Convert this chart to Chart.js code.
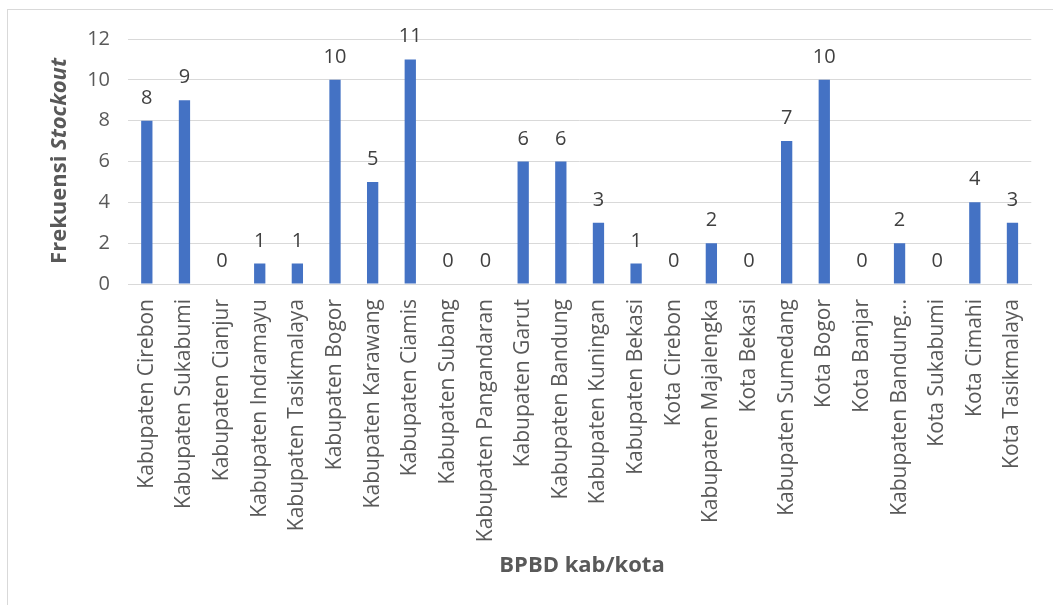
<!DOCTYPE html>
<html>
<head>
<meta charset="utf-8">
<script src="https://cdn.jsdelivr.net/npm/chart.js@4/dist/chart.umd.min.js"></script>
<style>
  html, body { margin: 0; padding: 0; background: #fff; }
  canvas { display: block; }
</style>
</head>
<body>
<canvas id="c" width="1053" height="605"></canvas>
<script>
// Kabupaten / kota in West Java and their stockout frequency
const categories = [
  "Kabupaten Cirebon", "Kabupaten Sukabumi", "Kabupaten Cianjur", "Kabupaten Indramayu",
  "Kabupaten Tasikmalaya", "Kabupaten Bogor", "Kabupaten Karawang", "Kabupaten Ciamis",
  "Kabupaten Subang", "Kabupaten Pangandaran", "Kabupaten Garut", "Kabupaten Bandung",
  "Kabupaten Kuningan", "Kabupaten Bekasi", "Kota Cirebon", "Kabupaten Majalengka",
  "Kota Bekasi", "Kabupaten Sumedang", "Kota Bogor", "Kota Banjar",
  "Kabupaten Bandung…", "Kota Sukabumi", "Kota Cimahi", "Kota Tasikmalaya"
];
const stockout = [8, 9, 0, 1, 1, 10, 5, 11, 0, 0, 6, 6, 3, 1, 0, 2, 0, 7, 10, 0, 2, 0, 4, 3];
const yTicks = [0, 2, 4, 6, 8, 10, 12];
const yTitleMain = "Frekuensi ";
const yTitleItalic = "Stockout";
const xTitle = "BPBD kab/kota";

const FONT = "'Open Sans', 'Noto Sans', sans-serif";
const TEXT = "#595959";

// Value labels above each bar, titles and chart frame
const decorations = {
  id: "decorations",
  afterDatasetsDraw(chart) {
    const ctx = chart.ctx;
    const meta = chart.getDatasetMeta(0);
    ctx.save();
    ctx.fillStyle = "#404040";
    ctx.font = "20px " + FONT;
    ctx.textAlign = "center";
    ctx.textBaseline = "alphabetic";
    meta.data.forEach((bar, i) => {
      ctx.fillText(String(stockout[i]), bar.x, bar.y - 17);
    });
    ctx.restore();
  },
  afterDraw(chart) {
    const ctx = chart.ctx;
    ctx.save();
    // frame
    ctx.strokeStyle = "#d9d9d9";
    ctx.lineWidth = 1;
    ctx.strokeRect(7.5, 9.5, 1200, 800);

    // y axis title with italic part
    ctx.fillStyle = TEXT;
    ctx.textBaseline = "middle";
    const fMain = "bold 22px " + FONT;
    const fIt = "italic bold 22px " + FONT;
    ctx.font = fMain;
    const w1 = ctx.measureText(yTitleMain).width;
    ctx.font = fIt;
    const w2 = ctx.measureText(yTitleItalic).width;
    ctx.translate(60, 161);
    ctx.rotate(-Math.PI / 2);
    ctx.textAlign = "left";
    const start = -(w1 + w2) / 2;
    ctx.font = fMain;
    ctx.fillText(yTitleMain, start, 0);
    ctx.font = fIt;
    ctx.fillText(yTitleItalic, start + w1, 0);
    ctx.setTransform(1, 0, 0, 1, 0, 0);

    // x axis title
    ctx.font = "bold 22px " + FONT;
    ctx.textAlign = "center";
    ctx.fillText(xTitle, 582, 566);
    ctx.restore();
  }
};

new Chart(document.getElementById("c"), {
  type: "bar",
  data: {
    labels: categories,
    datasets: [{
      data: stockout,
      backgroundColor: "#4472C4",
      borderWidth: 0,
      categoryPercentage: 1,
      barPercentage: 0.3
    }]
  },
  options: {
    responsive: false,
    animation: false,
    devicePixelRatio: 1,
    layout: { padding: { top: 39, right: 16, bottom: 0, left: 0 } },
    plugins: { legend: { display: false }, tooltip: { enabled: false } },
    scales: {
      x: {
        grid: { display: false, drawTicks: false },
        border: { color: "#d9d9d9", width: 1 },
        ticks: {
          autoSkip: false,
          maxRotation: 90,
          minRotation: 90,
          padding: 15,
          color: TEXT,
          font: { family: FONT, size: 21 }
        },
        afterFit(scale) { scale.height = 321; }
      },
      y: {
        min: 0,
        max: 12,
        afterBuildTicks(scale) { scale.ticks = yTicks.map(v => ({ value: v })); },
        grid: { color: "#d9d9d9", drawTicks: false },
        border: { display: false },
        ticks: {
          padding: 18,
          color: TEXT,
          font: { family: FONT, size: 20 }
        },
        afterFit(scale) { scale.width = 128; }
      }
    }
  },
  plugins: [decorations]
});
</script>
</body>
</html>
